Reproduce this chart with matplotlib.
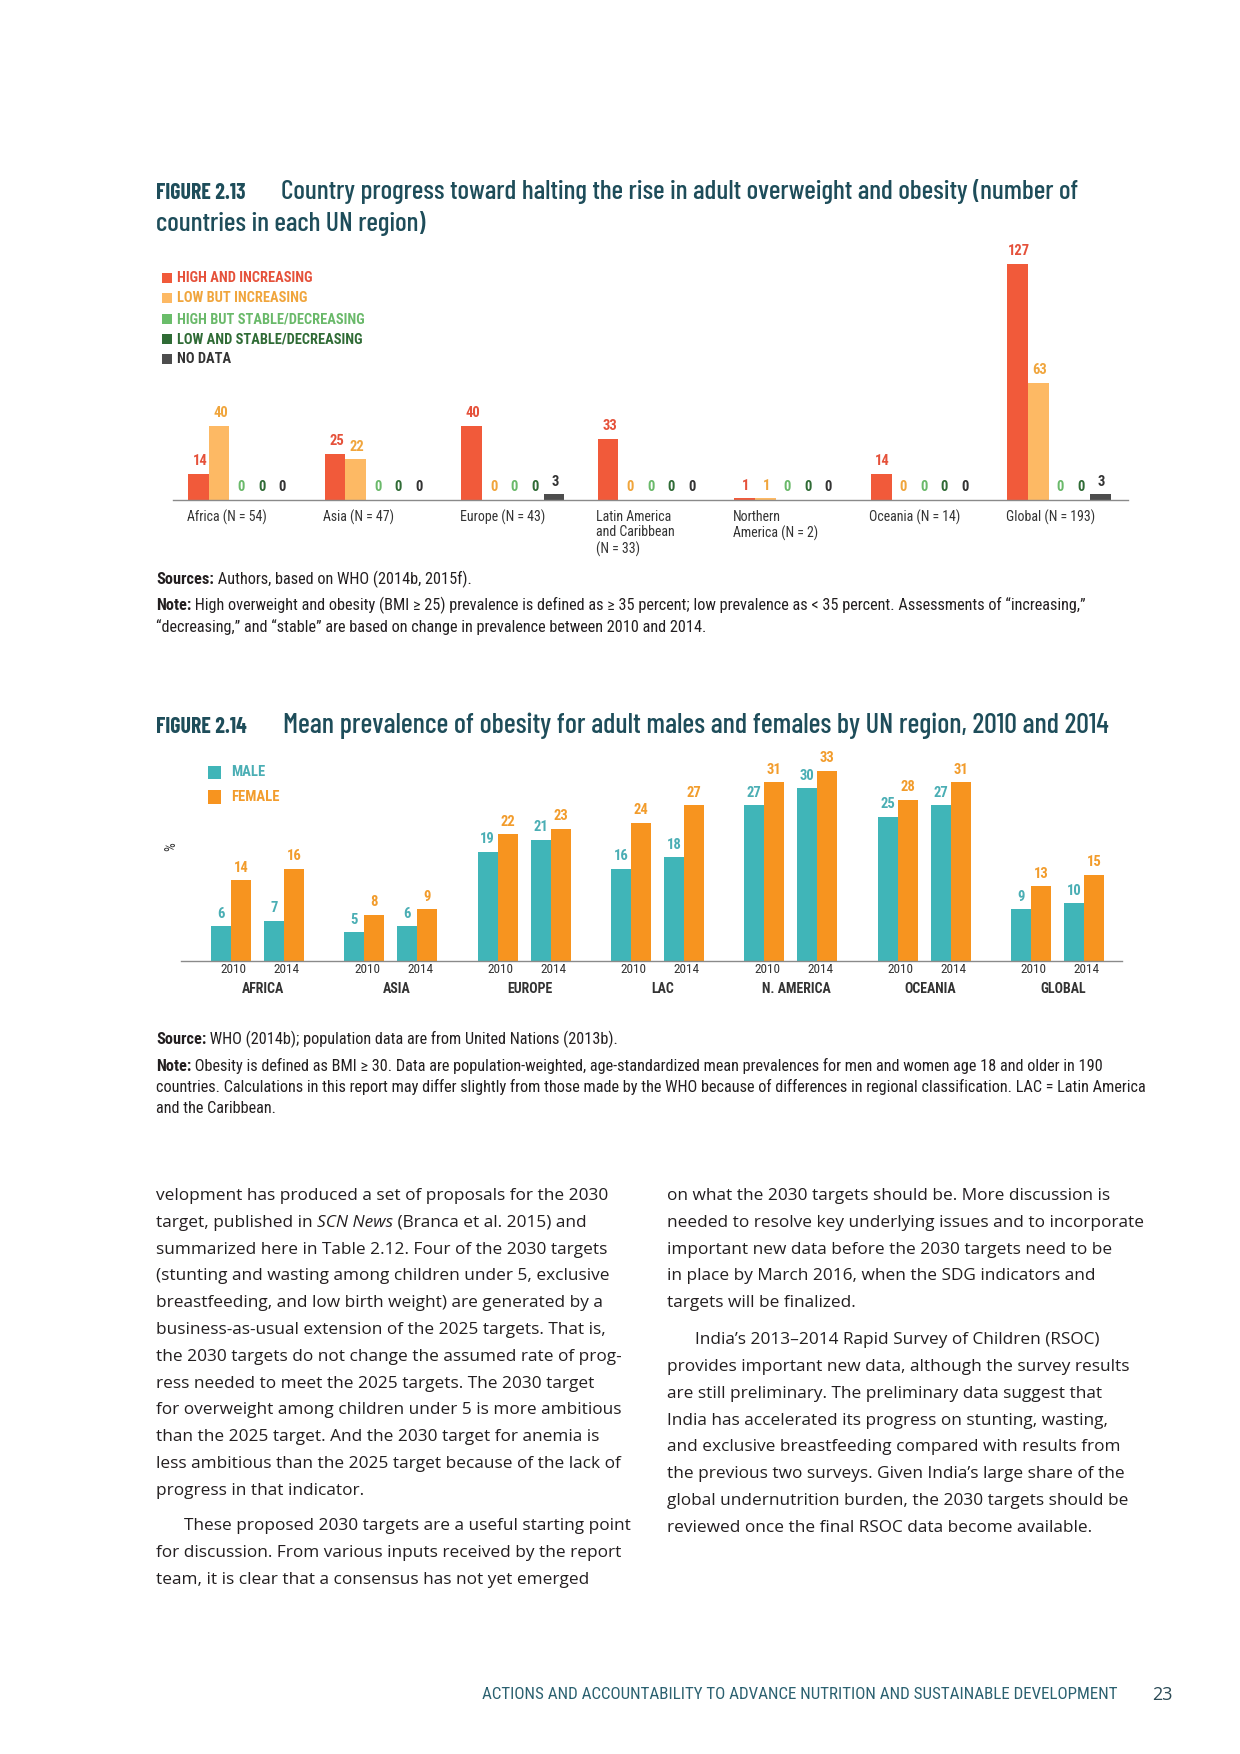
import matplotlib
matplotlib.use('Agg')
import matplotlib.pyplot as plt
from matplotlib import font_manager as fm
from matplotlib.patches import Rectangle
import numpy as np

# ---------------- data: Figure 2.13 ----------------
regions_213 = ['Africa (N = 54)', 'Asia (N = 47)', 'Europe (N = 43)',
               'Latin America\nand Caribbean\n(N = 33)', 'Northern\nAmerica (N = 2)',
               'Oceania (N = 14)', 'Global (N = 193)']
high_increasing = [14, 25, 40, 33, 1, 14, 127]
low_increasing = [40, 22, 0, 0, 1, 0, 63]
high_stable = [0, 0, 0, 0, 0, 0, 0]
low_stable = [0, 0, 0, 0, 0, 0, 0]
no_data = [0, 0, 3, 0, 0, 0, 3]
series_213 = ['HIGH AND INCREASING', 'LOW BUT INCREASING', 'HIGH BUT STABLE/DECREASING',
              'LOW AND STABLE/DECREASING', 'NO DATA']

# ---------------- data: Figure 2.14 ----------------
regions_214 = ['AFRICA', 'ASIA', 'EUROPE', 'LAC', 'N. AMERICA', 'OCEANIA', 'GLOBAL']
years = ['2010', '2014']
male_2010 = [6, 5, 19, 16, 27, 25, 9]
female_2010 = [14, 8, 22, 24, 31, 28, 13]
male_2014 = [7, 6, 21, 18, 30, 27, 10]
female_2014 = [16, 9, 23, 27, 33, 31, 15]

W, H = 1240, 1754
fig = plt.figure(figsize=(12.4, 17.54), dpi=100)
fig.patch.set_facecolor('white')
R = fig.canvas.get_renderer()

names = {f.name for f in fm.fontManager.ttflist}
def pick(cands, default='DejaVu Sans'):
    for c in cands:
        if c in names:
            return c
    return default
COND = pick(['Roboto Condensed', 'Liberation Sans Narrow', 'Open Sans Condensed'])
TITLE = pick(['Barlow Condensed', 'Roboto Condensed'])
BODY = pick(['Open Sans', 'Noto Sans'])

def FX(x): return x / W
def FY(y): return 1 - y / H

def tw(s, size, weight='normal', style='normal', family=None):
    fam = family or BODY
    t1 = fig.text(0, 0, '|' + s + '|', fontsize=size, fontweight=weight, fontstyle=style, family=fam)
    t2 = fig.text(0, 0, '||', fontsize=size, fontweight=weight, fontstyle=style, family=fam)
    w = t1.get_window_extent(R).width - t2.get_window_extent(R).width
    t1.remove(); t2.remove()
    return w

def rich(x, y, parts, size, color='#231f20', family=None):
    fam = family or BODY
    cx = x
    for p in parts:
        s = p[0]; wgt = p[1] if len(p) > 1 else 'normal'; sty = p[2] if len(p) > 2 else 'normal'
        fig.text(FX(cx), FY(y), s, fontsize=size, fontweight=wgt, fontstyle=sty,
                 family=fam, color=color, va='baseline', ha='left')
        cx += tw(s, size, wgt, sty, fam)

def fit(parts, target, family=None):
    total = sum(tw(p[0], 10, p[1] if len(p) > 1 else 'normal',
                   p[2] if len(p) > 2 else 'normal', family) for p in parts)
    return 10 * target / total

TITLE_C = '#1e4d5a'
TEXT_C = '#231f20'
TW = 'medium'

# ---------------- Figure 2.13 title ----------------
fs_fig = fit([('FIGURE 2.13', 'bold')], 90, TITLE)
rich(156, 199, [('FIGURE 2.13', 'bold')], fs_fig, TITLE_C, TITLE)
t213 = 'Country progress toward halting the rise in adult overweight and obesity (number of'
fs_t = fit([(t213, TW)], 800, TITLE)
rich(281, 199, [(t213, TW)], fs_t, TITLE_C, TITLE)
rich(156, 231, [('countries in each UN region)', TW)], fs_t, TITLE_C, TITLE)

# ---------------- Figure 2.13 chart ----------------
ax1 = fig.add_axes([FX(173), FY(500), 955 / W, 260 / H])
cols_213 = ['#f15a3a', '#fdb964', '#6abd6a', '#2f6b35', '#4d4d4d']
lab_213 = ['#e5513a', '#f0a53c', '#6ab96a', '#2f6b35', '#333333']
vals_213 = [high_increasing, low_increasing, high_stable, low_stable, no_data]
x = np.arange(len(regions_213))
bw = 0.151
for i, (vals, c, lc) in enumerate(zip(vals_213, cols_213, lab_213)):
    xs = x + (i - 2) * bw
    ax1.bar(xs, vals, width=bw, color=c, linewidth=0)
    for xx, v in zip(xs, vals):
        ax1.annotate(str(v), (xx, v), xytext=(1, 4), textcoords='offset points',
                     ha='center', va='bottom', fontsize=10.5, fontweight='bold',
                     color=lc, family=COND)
for xx, lab in zip(x, regions_213):
    ax1.annotate(lab, (xx - 2.5 * bw, 0), xytext=(-1, -7), textcoords='offset points',
                 ha='left', va='top', fontsize=10, color='#333333', family=COND,
                 linespacing=1.15)
ax1.set_xlim(-0.4886, 6.5055)
ax1.set_ylim(0, 139.8)
for s in ['top', 'right', 'left']:
    ax1.spines[s].set_visible(False)
ax1.spines['bottom'].set_color('#8a8a8a')
ax1.spines['bottom'].set_linewidth(1.0)
ax1.set_xticks([]); ax1.set_yticks([])
ax1.patch.set_alpha(0)

leg_y = [278, 298, 319, 339, 359]
fs_leg = fit([('HIGH BUT STABLE/DECREASING', 'bold')], 186, COND)
for yy, lab, c, lc in zip(leg_y, series_213, cols_213, lab_213):
    fig.patches.append(Rectangle((FX(162), FY(yy + 5)), 10 / W, 10 / H, transform=fig.transFigure,
                                 facecolor=c, edgecolor='none'))
    fig.text(FX(177), FY(yy), lab, fontsize=fs_leg, fontweight='bold', color=lc,
             family=COND, va='center', ha='left')

note_size = fit([('Note:', 'bold'), (' High overweight and obesity (BMI ≥ 25) prevalence is defined as ≥ 35 percent; low prevalence as < 35 percent. Assessments of “increasing,”',)], 930, COND)
rich(156, 584, [('Sources:', 'bold'), (' Authors, based on WHO (2014b, 2015f).',)], note_size, TEXT_C, COND)
rich(156, 610, [('Note:', 'bold'), (' High overweight and obesity (BMI ≥ 25) prevalence is defined as ≥ 35 percent; low prevalence as < 35 percent. Assessments of “increasing,”',)], note_size, TEXT_C, COND)
rich(156, 632, [('“decreasing,” and “stable” are based on change in prevalence between 2010 and 2014.',)], note_size, TEXT_C, COND)

# ---------------- Figure 2.14 title ----------------
rich(156, 733, [('FIGURE 2.14', 'bold')], fs_fig, TITLE_C, TITLE)
t214 = 'Mean prevalence of obesity for adult males and females by UN region, 2010 and 2014'
fs_t2 = fit([(t214, TW)], 825, TITLE)
rich(283, 733, [(t214, TW)], fs_t2, TITLE_C, TITLE)

# ---------------- Figure 2.14 chart ----------------
ax2 = fig.add_axes([FX(181), FY(961), 941 / W, 201 / H])
teal, orange = '#40b5b8', '#f7941f'
teal_t, orange_t = '#4aaeb4', '#f29c2c'
g = np.arange(len(regions_214))
bw2 = 0.15
po = 0.199
sets = [(male_2010, -po - bw2 / 2, teal, teal_t), (female_2010, -po + bw2 / 2, orange, orange_t),
        (male_2014, po - bw2 / 2, teal, teal_t), (female_2014, po + bw2 / 2, orange, orange_t)]
for vals, off, c, lc in sets:
    xs = g + off
    ax2.bar(xs, vals, width=bw2, color=c, linewidth=0)
    for xx, v in zip(xs, vals):
        ax2.annotate(str(v), (xx, v), xytext=(0, 4), textcoords='offset points',
                     ha='center', va='bottom', fontsize=10.5, fontweight='bold',
                     color=lc, family=COND)
for gi, reg in zip(g, regions_214):
    for yr, off in zip(years, [-po, po]):
        ax2.annotate(yr, (gi + off, 0), xytext=(2, -1.5), textcoords='offset points',
                     ha='center', va='top', fontsize=9.5, color='#333333', family=COND)
    ax2.annotate(reg, (gi, 0), xytext=(4, -15), textcoords='offset points',
                 ha='center', va='top', fontsize=10, fontweight='bold', color='#333333', family=COND)
ax2.set_xlim(-0.574, 6.484)
ax2.set_ylim(0, 34.9)
for s in ['top', 'right', 'left']:
    ax2.spines[s].set_visible(False)
ax2.spines['bottom'].set_color('#8a8a8a')
ax2.spines['bottom'].set_linewidth(1.0)
ax2.set_xticks([]); ax2.set_yticks([])
ax2.patch.set_alpha(0)
fig.text(FX(171), FY(847), '%', rotation=90, fontsize=10, color='#333333', family=COND,
         ha='center', va='center')

for yy, lab, c, lc in [(772.5, 'MALE', teal, teal_t), (797, 'FEMALE', orange, orange_t)]:
    fig.patches.append(Rectangle((FX(208), FY(yy + 6.5)), 13 / W, 13 / H, transform=fig.transFigure,
                                 facecolor=c, edgecolor='none'))
    fig.text(FX(231), FY(yy), lab, fontsize=10.5, fontweight='bold', color=lc,
             family=COND, va='center', ha='left')

rich(156, 1044, [('Source:', 'bold'), (' WHO (2014b); population data are from United Nations (2013b).',)], note_size, TEXT_C, COND)
rich(156, 1071, [('Note:', 'bold'), (' Obesity is defined as BMI ≥ 30. Data are population-weighted, age-standardized mean prevalences for men and women age 18 and older in 190',)], note_size, TEXT_C, COND)
rich(156, 1092, [('countries. Calculations in this report may differ slightly from those made by the WHO because of differences in regional classification. LAC = Latin America',)], note_size, TEXT_C, COND)
rich(156, 1113, [('and the Caribbean.',)], note_size, TEXT_C, COND)

# ---------------- body text ----------------
body_size = fit([('velopment has produced a set of proposals for the 2030',)], 449, BODY)
left_col = [
    [('velopment has produced a set of proposals for the 2030',)],
    [('target, published in ',), ('SCN News', 'normal', 'italic'), (' (Branca et al. 2015) and',)],
    [('summarized here in Table 2.12. Four of the 2030 targets',)],
    [('(stunting and wasting among children under 5, exclusive',)],
    [('breastfeeding, and low birth weight) are generated by a',)],
    [('business-as-usual extension of the 2025 targets. That is,',)],
    [('the 2030 targets do not change the assumed rate of prog-',)],
    [('ress needed to meet the 2025 targets. The 2030 target',)],
    [('for overweight among children under 5 is more ambitious',)],
    [('than the 2025 target. And the 2030 target for anemia is',)],
    [('less ambitious than the 2025 target because of the lack of',)],
    [('progress in that indicator.',)],
]
left_col2 = [
    [('These proposed 2030 targets are a useful starting point',)],
    [('for discussion. From various inputs received by the report',)],
    [('team, it is clear that a consensus has not yet emerged',)],
]
right_col = [
    [('on what the 2030 targets should be. More discussion is',)],
    [('needed to resolve key underlying issues and to incorporate',)],
    [('important new data before the 2030 targets need to be',)],
    [('in place by March 2016, when the SDG indicators and',)],
    [('targets will be finalized.',)],
]
right_col2 = [
    [('India’s 2013–2014 Rapid Survey of Children (RSOC)',)],
    [('provides important new data, although the survey results',)],
    [('are still preliminary. The preliminary data suggest that',)],
    [('India has accelerated its progress on stunting, wasting,',)],
    [('and exclusive breastfeeding compared with results from',)],
    [('the previous two surveys. Given India’s large share of the',)],
    [('global undernutrition burden, the 2030 targets should be',)],
    [('reviewed once the final RSOC data become available.',)],
]
LS = 26.8
base0 = 1200
for i, parts in enumerate(left_col):
    rich(156, base0 + i * LS, parts, body_size, TEXT_C)
for i, parts in enumerate(left_col2):
    rich(156 + (28 if i == 0 else 0), base0 + 11 * LS + 35.5 + i * LS, parts, body_size, TEXT_C)
for i, parts in enumerate(right_col):
    rich(667, base0 + i * LS, parts, body_size, TEXT_C)
for i, parts in enumerate(right_col2):
    rich(667 + (28 if i == 0 else 0), base0 + 4 * LS + 37 + i * LS, parts, body_size, TEXT_C)

# ---------------- footer ----------------
foot = 'ACTIONS AND ACCOUNTABILITY TO ADVANCE NUTRITION AND SUSTAINABLE DEVELOPMENT'
fsz = fit([(foot,)], 638, COND)
fig.text(FX(1117), FY(1699), foot, fontsize=fsz, color='#2b6170', family=COND, ha='right', va='baseline')
fig.text(FX(1173), FY(1700), '23', fontsize=13, color='#2b4a55', family=BODY, ha='right', va='baseline')

fig.savefig('out.png', dpi=100, facecolor='white')
